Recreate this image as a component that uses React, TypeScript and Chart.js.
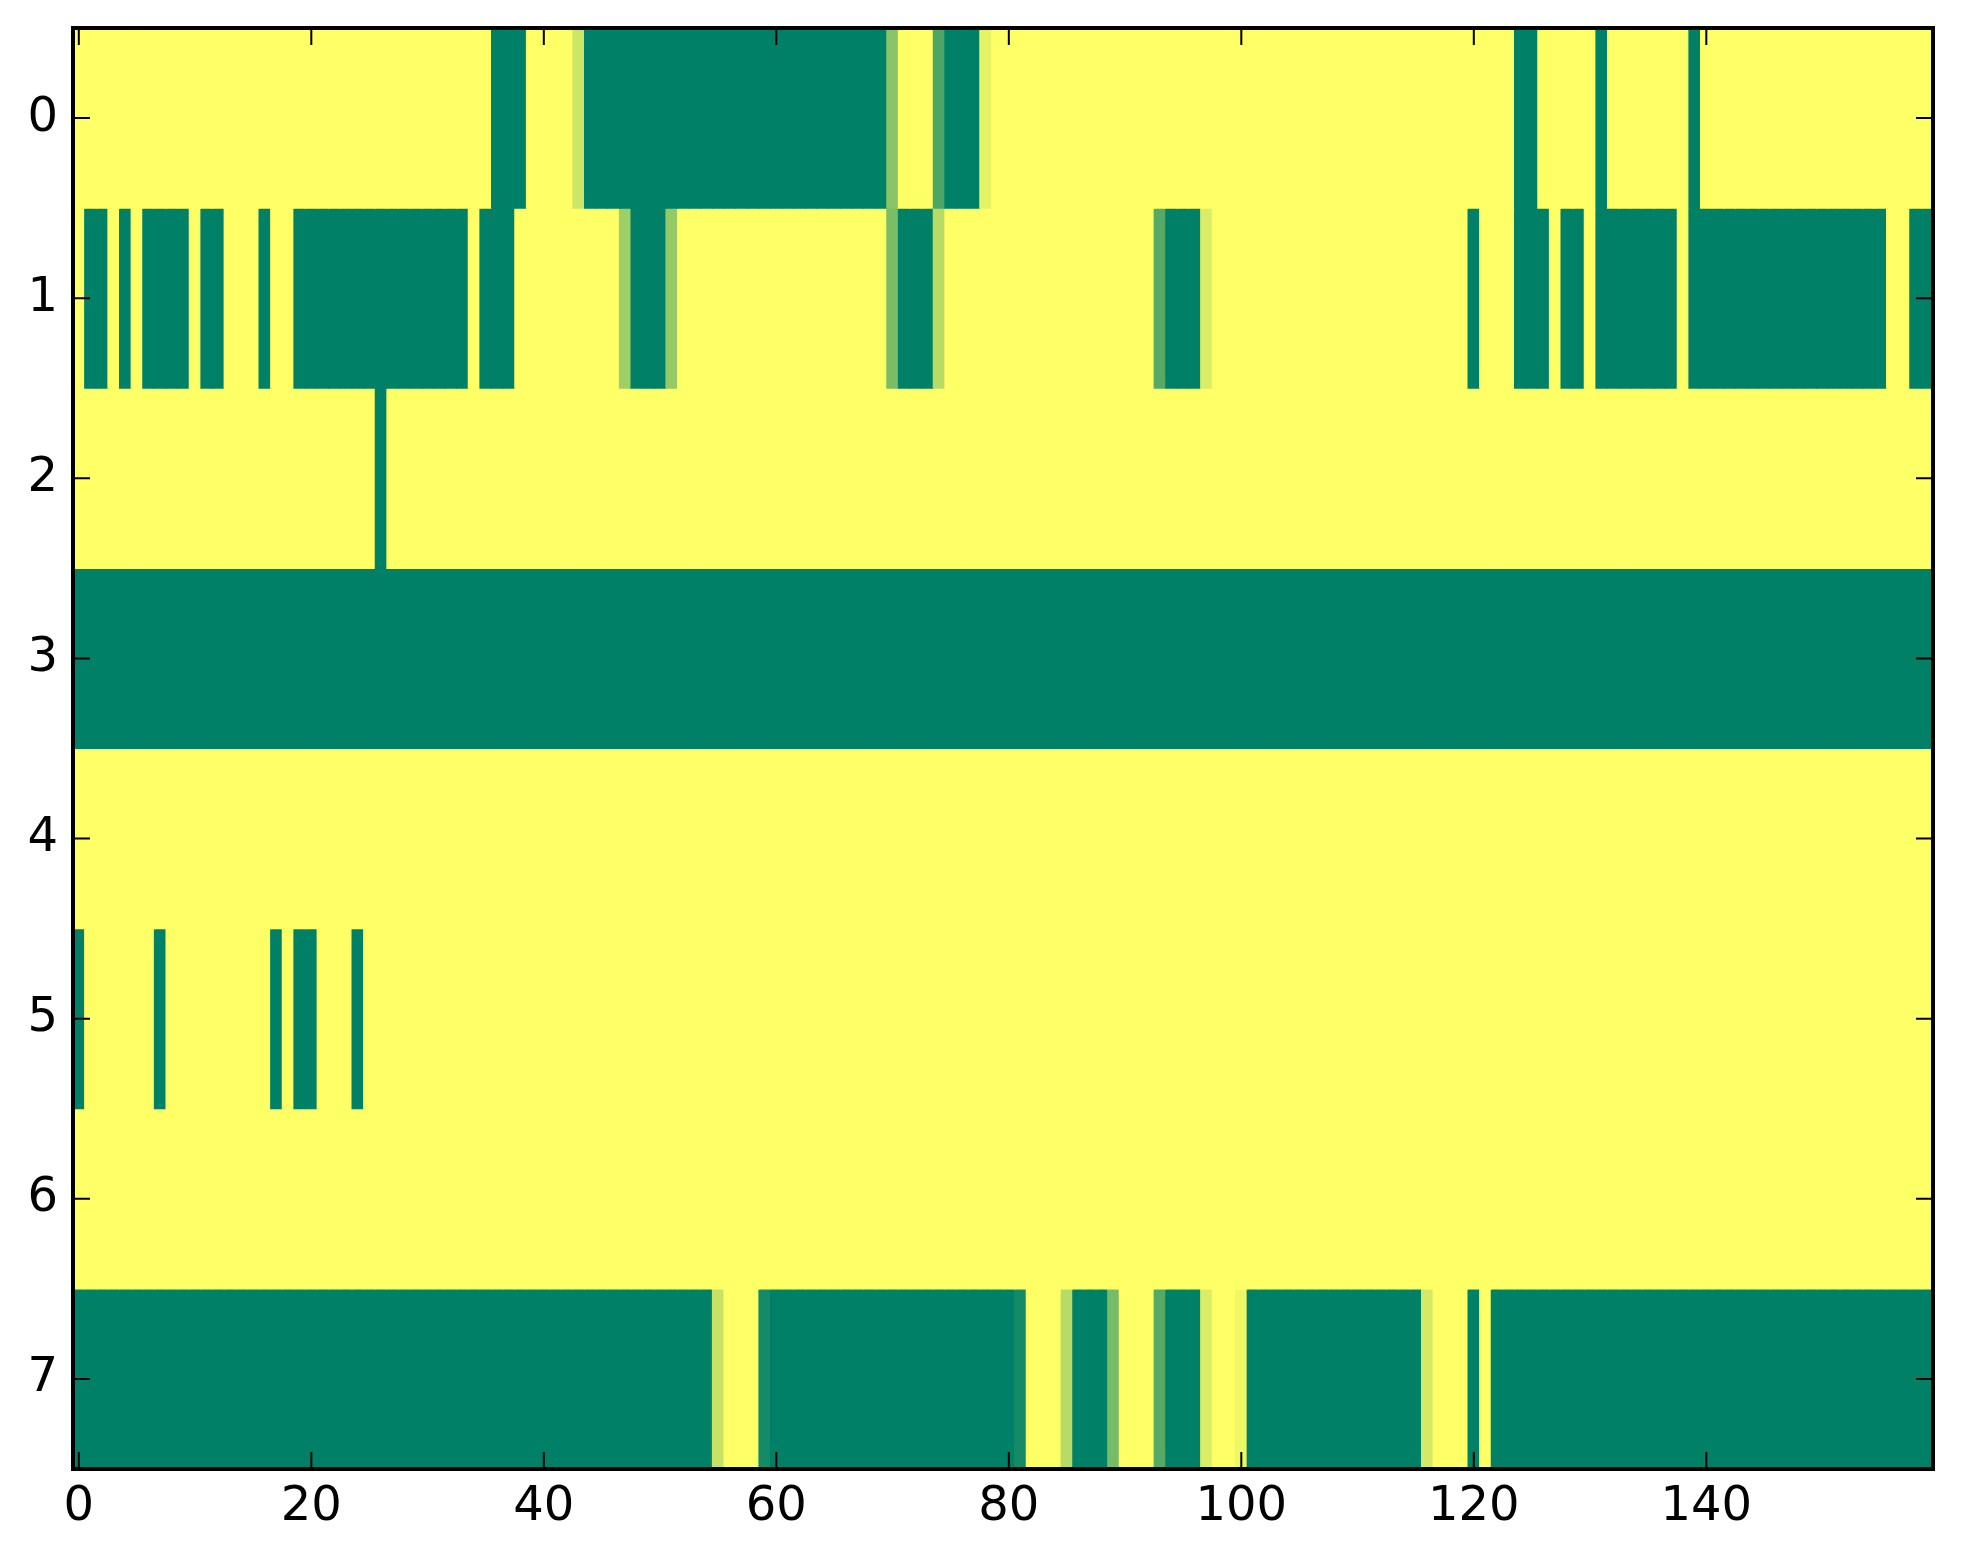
import React, { useEffect, useRef } from "react";
import { Chart, registerables } from "chart.js";

Chart.register(...registerables);

// Heatmap values (0 = green, 1 = yellow), 8 rows x 160 columns.
const row0 = [
  1,1,1,1,1,1,1,1,1,1,1,1,1,1,1,1,1,1,1,1,
  1,1,1,1,1,1,1,1,1,1,1,1,1,1,1,1,0,0,0,1,
  1,1,1,0.8,0,0,0,0,0,0,0,0,0,0,0,0,0,0,0,0,
  0,0,0,0,0,0,0,0,0,0,0.54,1,1,1,0.3,0,0,0,0.9,1,
  1,1,1,1,1,1,1,1,1,1,1,1,1,1,1,1,1,1,1,1,
  1,1,1,1,1,1,1,1,1,1,1,1,1,1,1,1,1,1,1,1,
  1,1,1,1,0,0,1,1,1,1,1,0,1,1,1,1,1,1,1,0,
  1,1,1,1,1,1,1,1,1,1,1,1,1,1,1,1,1,1,1,1,
];
const row1 = [
  1,0,0,1,0,1,0,0,0,0,1,0,0,1,1,1,0,1,1,0,
  0,0,0,0,0,0,0,0,0,0,0,0,0,0,1,0,0,0,1,1,
  1,1,1,1,1,1,1,0.62,0,0,0,0.58,1,1,1,1,1,1,1,1,
  1,1,1,1,1,1,1,1,1,1,0.48,0,0,0,0.72,1,1,1,1,1,
  1,1,1,1,1,1,1,1,1,1,1,1,1,0.33,0,0,0,0.86,1,1,
  1,1,1,1,1,1,1,1,1,1,1,1,1,1,1,1,1,1,1,1,
  0,1,1,1,0,0,0,1,0,0,1,0,0,0,0,0,0,0,1,0,
  0,0,0,0,0,0,0,0,0,0,0,0,0,0,0,0,1,1,0,0,
];
const row2 = [
  1,1,1,1,1,1,1,1,1,1,1,1,1,1,1,1,1,1,1,1,
  1,1,1,1,1,1,0,1,1,1,1,1,1,1,1,1,1,1,1,1,
  1,1,1,1,1,1,1,1,1,1,1,1,1,1,1,1,1,1,1,1,
  1,1,1,1,1,1,1,1,1,1,1,1,1,1,1,1,1,1,1,1,
  1,1,1,1,1,1,1,1,1,1,1,1,1,1,1,1,1,1,1,1,
  1,1,1,1,1,1,1,1,1,1,1,1,1,1,1,1,1,1,1,1,
  1,1,1,1,1,1,1,1,1,1,1,1,1,1,1,1,1,1,1,1,
  1,1,1,1,1,1,1,1,1,1,1,1,1,1,1,1,1,1,1,1,
];
const row3 = [
  0,0,0,0,0,0,0,0,0,0,0,0,0,0,0,0,0,0,0,0,
  0,0,0,0,0,0,0,0,0,0,0,0,0,0,0,0,0,0,0,0,
  0,0,0,0,0,0,0,0,0,0,0,0,0,0,0,0,0,0,0,0,
  0,0,0,0,0,0,0,0,0,0,0,0,0,0,0,0,0,0,0,0,
  0,0,0,0,0,0,0,0,0,0,0,0,0,0,0,0,0,0,0,0,
  0,0,0,0,0,0,0,0,0,0,0,0,0,0,0,0,0,0,0,0,
  0,0,0,0,0,0,0,0,0,0,0,0,0,0,0,0,0,0,0,0,
  0,0,0,0,0,0,0,0,0,0,0,0,0,0,0,0,0,0,0,0,
];
const row4 = [
  1,1,1,1,1,1,1,1,1,1,1,1,1,1,1,1,1,1,1,1,
  1,1,1,1,1,1,1,1,1,1,1,1,1,1,1,1,1,1,1,1,
  1,1,1,1,1,1,1,1,1,1,1,1,1,1,1,1,1,1,1,1,
  1,1,1,1,1,1,1,1,1,1,1,1,1,1,1,1,1,1,1,1,
  1,1,1,1,1,1,1,1,1,1,1,1,1,1,1,1,1,1,1,1,
  1,1,1,1,1,1,1,1,1,1,1,1,1,1,1,1,1,1,1,1,
  1,1,1,1,1,1,1,1,1,1,1,1,1,1,1,1,1,1,1,1,
  1,1,1,1,1,1,1,1,1,1,1,1,1,1,1,1,1,1,1,1,
];
const row5 = [
  0,1,1,1,1,1,1,0,1,1,1,1,1,1,1,1,1,0,1,0,
  0,1,1,1,0,1,1,1,1,1,1,1,1,1,1,1,1,1,1,1,
  1,1,1,1,1,1,1,1,1,1,1,1,1,1,1,1,1,1,1,1,
  1,1,1,1,1,1,1,1,1,1,1,1,1,1,1,1,1,1,1,1,
  1,1,1,1,1,1,1,1,1,1,1,1,1,1,1,1,1,1,1,1,
  1,1,1,1,1,1,1,1,1,1,1,1,1,1,1,1,1,1,1,1,
  1,1,1,1,1,1,1,1,1,1,1,1,1,1,1,1,1,1,1,1,
  1,1,1,1,1,1,1,1,1,1,1,1,1,1,1,1,1,1,1,1,
];
const row6 = [
  1,1,1,1,1,1,1,1,1,1,1,1,1,1,1,1,1,1,1,1,
  1,1,1,1,1,1,1,1,1,1,1,1,1,1,1,1,1,1,1,1,
  1,1,1,1,1,1,1,1,1,1,1,1,1,1,1,1,1,1,1,1,
  1,1,1,1,1,1,1,1,1,1,1,1,1,1,1,1,1,1,1,1,
  1,1,1,1,1,1,1,1,1,1,1,1,1,1,1,1,1,1,1,1,
  1,1,1,1,1,1,1,1,1,1,1,1,1,1,1,1,1,1,1,1,
  1,1,1,1,1,1,1,1,1,1,1,1,1,1,1,1,1,1,1,1,
  1,1,1,1,1,1,1,1,1,1,1,1,1,1,1,1,1,1,1,1,
];
const row7 = [
  0,0,0,0,0,0,0,0,0,0,0,0,0,0,0,0,0,0,0,0,
  0,0,0,0,0,0,0,0,0,0,0,0,0,0,0,0,0,0,0,0,
  0,0,0,0,0,0,0,0,0,0,0,0,0,0,0,0.78,1,1,1,0.08,
  0,0,0,0,0,0,0,0,0,0,0,0,0,0,0,0,0,0,0,0,
  0,0.08,1,1,1,0.72,0,0,0,0.47,1,1,1,0.33,0,0,0,0.86,1,1,
  0.94,0,0,0,0,0,0,0,0,0,0,0,0,0,0,0,0.83,1,1,1,
  0,1,0,0,0,0,0,0,0,0,0,0,0,0,0,0,0,0,0,0,
  0,0,0,0,0,0,0,0,0,0,0,0,0,0,0,0,0,0,0,0,
];

const rows = [row0, row1, row2, row3, row4, row5, row6, row7];
const xTickValues = [0, 20, 40, 60, 80, 100, 120, 140];
const yTickValues = [0, 1, 2, 3, 4, 5, 6, 7];

// matplotlib "summer" colormap
function summer(v: number): string {
  const r = Math.round(255 * v);
  const g = Math.round(255 * (0.5 + 0.5 * v));
  const b = Math.round(255 * 0.4);
  return `rgb(${r},${g},${b})`;
}

const framePlugin = {
  id: "mplFrame",
  afterDatasetsDraw(chart: any) {
    const { ctx, chartArea } = chart;
    const { left, right, top, bottom } = chartArea;
    const xs = chart.scales.x;
    const ys = chart.scales.y;
    const tl = 17;
    ctx.save();
    ctx.strokeStyle = "#000";
    ctx.lineWidth = 2;
    ctx.beginPath();
    xTickValues.forEach((v) => {
      const px = xs.getPixelForValue(v);
      ctx.moveTo(px, bottom);
      ctx.lineTo(px, bottom - tl);
      ctx.moveTo(px, top);
      ctx.lineTo(px, top + tl);
    });
    yTickValues.forEach((v) => {
      const py = ys.getPixelForValue(v);
      ctx.moveTo(left, py);
      ctx.lineTo(left + tl, py);
      ctx.moveTo(right, py);
      ctx.lineTo(right - tl, py);
    });
    ctx.stroke();
    ctx.lineWidth = 4;
    ctx.strokeRect(left, top, right - left, bottom - top);
    ctx.restore();
  },
};

export default function App() {
  const ref = useRef<HTMLCanvasElement | null>(null);

  useEffect(() => {
    if (!ref.current) return;
    Chart.defaults.font.family = "'DejaVu Sans', sans-serif";
    Chart.defaults.font.size = 48;
    Chart.defaults.color = "#000";

    const datasets = rows.map((row, r) => ({
      label: `row ${r}`,
      data: row.map((v, c) => ({ x: c, y: [r - 0.5, r + 0.5] })),
      backgroundColor: row.map((v) => summer(v)),
      borderWidth: 0,
      barPercentage: 1,
      categoryPercentage: 1,
      grouped: false,
      inflateAmount: 0.5,
    }));

    const chart = new Chart(ref.current, {
      type: "bar",
      data: { datasets } as any,
      options: {
        animation: false,
        responsive: true,
        maintainAspectRatio: false,
        layout: { padding: { top: 20, right: 22, left: 0, bottom: 0 } },
        plugins: { legend: { display: false }, tooltip: { enabled: false } },
        scales: {
          x: {
            type: "linear",
            offset: false,
            min: -0.5,
            max: 159.5,
            grid: { display: false, drawTicks: false, offset: false },
            border: { display: false },
            ticks: { padding: 10, maxRotation: 0 },
            afterBuildTicks: (scale: any) => {
              scale.ticks = xTickValues.map((value) => ({ value }));
            },
            afterFit: (scale: any) => {
              scale.height = 87;
              scale.paddingLeft = 0;
              scale.paddingRight = 0;
            },
          },
          y: {
            type: "linear",
            reverse: true,
            min: -0.5,
            max: 7.5,
            grid: { display: false, drawTicks: false },
            border: { display: false },
            ticks: { padding: 15 },
            afterBuildTicks: (scale: any) => {
              scale.ticks = yTickValues.map((value) => ({ value }));
            },
            afterFit: (scale: any) => {
              scale.width = 65;
              scale.paddingTop = 0;
              scale.paddingBottom = 0;
            },
          },
        },
      } as any,
      plugins: [framePlugin],
    });
    return () => chart.destroy();
  }, []);

  return (
    <div style={{ position: "relative", width: "1947px", height: "1548px" }}>
      <canvas ref={ref} />
    </div>
  );
}
